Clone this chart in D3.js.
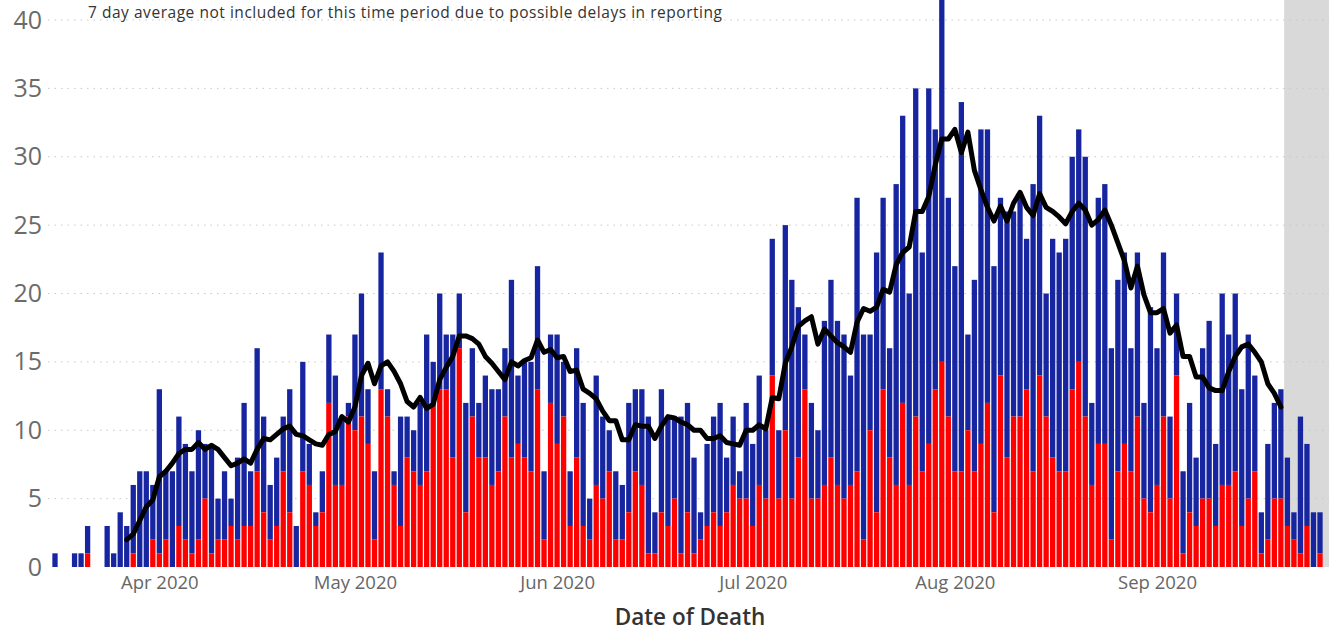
<!DOCTYPE html>
<html>
<head>
<meta charset="utf-8">
<script src="https://cdn.jsdelivr.net/npm/d3@7"></script>
<style>
  body { margin: 0; background: #fff; }
  svg { display: block; font-family: "Open Sans", "Noto Sans", sans-serif; }
</style>
</head>
<body>
<svg width="1329" height="632"></svg>
<script>
// daily deaths, starting 16 Mar 2020
const startDate = new Date(2020, 2, 16);

const totals = [
  1, 0, 0, 1, 1, 3, 0, 0, 3, 1, 4, 3, 6, 7, 7, 6, 13, 7, 7, 11,
  9, 7, 10, 9, 9, 5, 7, 5, 8, 12, 7, 16, 11, 6, 8, 11, 13, 3, 15, 9,
  4, 7, 17, 14, 11, 12, 17, 20, 13, 7, 23, 13, 7, 11, 11, 10, 12, 17, 15, 20,
  17, 17, 20, 12, 16, 12, 14, 13, 13, 16, 21, 14, 15, 15, 22, 7, 17, 17, 15, 7,
  16, 12, 5, 14, 11, 10, 7, 6, 12, 13, 13, 11, 4, 13, 11, 11, 11, 12, 8, 4,
  9, 11, 12, 8, 11, 7, 12, 9, 14, 10, 24, 10, 25, 21, 19, 17, 12, 10, 18, 21,
  18, 17, 14, 27, 17, 17, 23, 27, 16, 28, 33, 20, 35, 23, 35, 32, 42, 27, 22, 34,
  17, 21, 32, 32, 22, 27, 26, 26, 27, 24, 28, 33, 20, 24, 23, 24, 30, 32, 30, 12,
  27, 28, 16, 21, 23, 16, 23, 12, 19, 16, 23, 11, 20, 7, 12, 8, 16, 18, 9, 20,
  17, 20, 13, 17, 14, 4, 9, 12, 13, 8, 4, 11, 9, 4, 4
];

const redPart = [
  0, 0, 0, 0, 0, 1, 0, 0, 0, 0, 0, 0, 1, 0, 0, 2, 1, 2, 0, 3,
  2, 1, 2, 5, 1, 2, 2, 3, 2, 3, 3, 7, 4, 2, 3, 7, 4, 0, 7, 6,
  3, 4, 12, 6, 6, 11, 10, 11, 9, 2, 13, 11, 6, 3, 8, 7, 6, 7, 12, 13,
  13, 8, 16, 4, 11, 8, 8, 6, 7, 11, 8, 9, 8, 7, 13, 2, 12, 9, 11, 3,
  8, 3, 2, 6, 5, 7, 2, 2, 4, 7, 6, 1, 1, 4, 3, 5, 1, 4, 1, 2,
  3, 4, 3, 4, 6, 5, 5, 3, 6, 5, 14, 5, 10, 5, 8, 13, 5, 5, 6, 8,
  6, 5, 6, 7, 2, 10, 4, 13, 8, 6, 12, 6, 11, 7, 9, 13, 15, 11, 7, 7,
  10, 7, 9, 12, 4, 14, 8, 11, 11, 13, 7, 14, 11, 8, 7, 7, 13, 15, 11, 6,
  9, 9, 2, 7, 9, 7, 11, 5, 4, 6, 11, 5, 14, 1, 4, 3, 5, 5, 3, 6,
  6, 7, 3, 5, 7, 1, 2, 5, 5, 3, 2, 1, 3, 0, 1
];

// 7 day average, from 27 Mar to 20 Sep
const avgStart = new Date(2020, 2, 27);
const avg7 = [
  2.0, 2.4, 3.4, 4.4, 4.9, 6.6, 7.0, 7.6, 8.3, 8.6,
  8.6, 9.1, 8.6, 8.9, 8.6, 8.0, 7.4, 7.6, 7.9, 7.6,
  8.6, 9.4, 9.3, 9.7, 10.1, 10.3, 9.7, 9.6, 9.3, 9.0,
  8.9, 9.7, 9.9, 11.0, 10.6, 11.7, 14.0, 14.9, 13.4, 14.7,
  15.0, 14.3, 13.4, 12.1, 11.7, 12.4, 11.6, 11.9, 13.7, 14.6,
  15.4, 16.9, 16.9, 16.7, 16.3, 15.4, 14.9, 14.3, 13.7, 15.0,
  14.7, 15.1, 15.3, 16.6, 15.7, 15.9, 15.3, 15.4, 14.3, 14.4,
  13.0, 12.7, 12.3, 11.4, 10.7, 10.7, 9.3, 9.3, 10.4, 10.3,
  10.3, 9.4, 10.3, 11.0, 10.9, 10.6, 10.4, 10.0, 10.0, 9.4,
  9.4, 9.6, 9.1, 9.0, 8.9, 10.0, 10.0, 10.4, 10.1, 12.4,
  12.3, 14.9, 16.1, 17.6, 18.0, 18.3, 16.3, 17.4, 16.9, 16.4,
  16.1, 15.7, 17.9, 18.9, 18.7, 19.0, 20.3, 20.1, 22.1, 23.0,
  23.4, 26.0, 26.0, 27.1, 29.4, 31.3, 31.3, 32.0, 30.3, 31.8,
  29.0, 27.6, 26.3, 25.3, 26.4, 25.3, 26.6, 27.4, 26.3, 25.7,
  27.3, 26.3, 26.0, 25.6, 25.1, 26.0, 26.6, 26.1, 25.0, 25.4,
  26.1, 25.0, 23.7, 22.4, 20.4, 22.0, 19.9, 18.6, 18.6, 18.9,
  17.1, 17.7, 15.4, 15.4, 13.9, 13.9, 13.1, 12.9, 12.9, 14.3,
  15.4, 16.1, 16.3, 15.7, 15.0, 13.4, 12.7, 11.7
];

const yTicks = [0, 5, 10, 15, 20, 25, 30, 35, 40];
const lagStart = new Date(2020, 8, 20, 12); // shaded: possible reporting delays
const note = '7 day average not included for this time period due to possible delays in reporting';

const days = totals.map((t, i) => ({
  date: d3.timeDay.offset(startDate, i),
  total: t,
  red: redPart[i],
}));
const avgData = avg7.map((v, i) => ({ date: d3.timeDay.offset(avgStart, i), value: v }));

const svg = d3.select('svg');
const W = 1329;

const x = d3
  .scaleTime()
  .domain([startDate, days[days.length - 1].date])
  .range([55, 1320]);
const y = d3.scaleLinear().domain([0, 40]).range([567, 20]);
const barW = 5.3;

// shaded area
svg
  .append('rect')
  .attr('x', x(lagStart))
  .attr('y', 0)
  .attr('width', W - x(lagStart))
  .attr('height', y(0))
  .attr('fill', '#d9d9d9');

// gridlines
svg
  .append('g')
  .selectAll('line')
  .data(yTicks.slice(1))
  .join('line')
  .attr('x1', 48)
  .attr('x2', W)
  .attr('y1', (d) => y(d))
  .attr('y2', (d) => y(d))
  .attr('stroke', '#c8c8c8')
  .attr('stroke-width', 1)
  .attr('stroke-dasharray', '1.5,5');

// y axis
const yAxis = svg
  .append('g')
  .attr('transform', 'translate(42,0)')
  .call(d3.axisLeft(y).tickValues(yTicks).tickSize(0).tickPadding(0));
yAxis.select('.domain').remove();
yAxis
  .selectAll('text')
  .attr('font-size', 25)
  .attr('font-family', '"Open Sans", sans-serif')
  .attr('fill', '#6b6b6b');

// x axis
const xAxis = svg
  .append('g')
  .attr('transform', 'translate(0,576)')
  .call(
    d3
      .axisBottom(x)
      .ticks(d3.timeMonth.every(1))
      .tickFormat(d3.timeFormat('%b %Y'))
      .tickSize(0)
      .tickPadding(0)
  );
xAxis.select('.domain').remove();
xAxis
  .selectAll('text')
  .attr('font-size', 18.5)
  .attr('font-family', '"Open Sans", sans-serif')
  .attr('fill', '#666');

svg
  .append('text')
  .attr('x', 690)
  .attr('y', 625)
  .attr('text-anchor', 'middle')
  .attr('font-size', 22.5)
  .attr('font-weight', 600)
  .attr('fill', '#333')
  .text('Date of Death');

// bars
const bars = svg.append('g');
bars
  .selectAll('rect.blue')
  .data(days.filter((d) => d.total > d.red))
  .join('rect')
  .attr('class', 'blue')
  .attr('x', (d) => x(d.date) - barW / 2)
  .attr('width', barW)
  .attr('y', (d) => y(d.total))
  .attr('height', (d) => y(d.red) - y(d.total))
  .attr('fill', '#1726a0');

bars
  .selectAll('rect.red')
  .data(days.filter((d) => d.red > 0))
  .join('rect')
  .attr('class', 'red')
  .attr('x', (d) => x(d.date) - barW / 2)
  .attr('width', barW)
  .attr('y', (d) => y(d.red))
  .attr('height', (d) => y(0) - y(d.red))
  .attr('fill', '#ff0000');

// 7 day average
svg
  .append('path')
  .datum(avgData)
  .attr('fill', 'none')
  .attr('stroke', '#000')
  .attr('stroke-width', 5)
  .attr('stroke-linejoin', 'round')
  .attr('stroke-linecap', 'round')
  .attr(
    'd',
    d3
      .line()
      .x((d) => x(d.date))
      .y((d) => y(d.value))
  );

svg
  .append('text')
  .attr('x', 88)
  .attr('y', 18)
  .attr('font-size', 15.5)
  .attr('textLength', 634)
  .attr('lengthAdjust', 'spacing')
  .attr('fill', '#333')
  .text(note);
</script>
</body>
</html>
